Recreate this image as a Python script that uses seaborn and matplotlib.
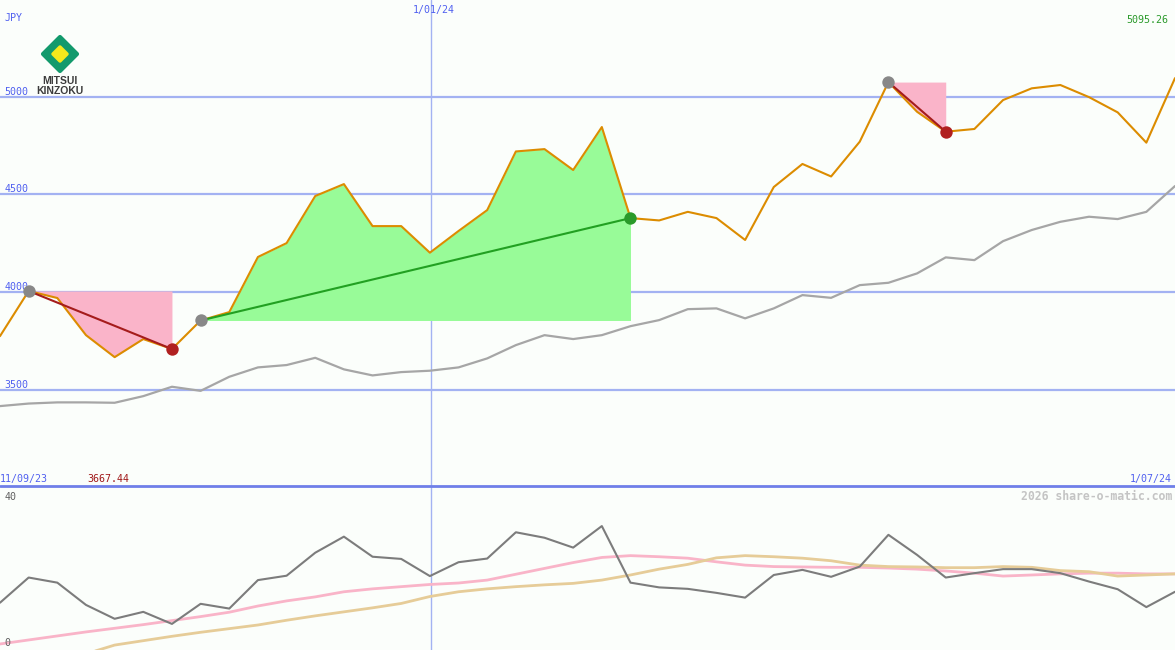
import numpy as np
import pandas as pd
import matplotlib
matplotlib.use("Agg")
import matplotlib.pyplot as plt
import seaborn as sns
from matplotlib.patches import Polygon

# weekly closes (JPY), 42 weeks
price = [3775, 4006, 3970, 3780, 3667.44, 3760, 3709, 3855, 3898, 4180,
         4251, 4492, 4553, 4338, 4338, 4202, 4313, 4420, 4720, 4732,
         4625, 4845, 4379, 4367, 4411, 4379, 4267, 4538, 4656, 4592,
         4770, 5075, 4923, 4821, 4835, 4983, 5043, 5060, 4998, 4920,
         4765, 5095.26]
# moving average (grey)
ma = [3417, 3430, 3436, 3436, 3434, 3468, 3516, 3495, 3567, 3615,
      3627, 3664, 3605, 3574, 3591, 3598, 3615, 3661, 3729, 3780,
      3760, 3780, 3826, 3857, 3913, 3917, 3866, 3917, 3985, 3971,
      4036, 4048, 4096, 4178, 4164, 4261, 4318, 4360, 4386, 4374,
      4411, 4543]
# lower panel indicator + its two averages
osc = [12.4, 19.3, 17.9, 11.8, 8.0, 9.9, 6.6, 12.1, 10.8, 18.6,
       19.8, 26.1, 30.5, 25.0, 24.4, 19.7, 23.5, 24.5, 31.7, 30.2,
       27.5, 33.4, 17.9, 16.6, 16.2, 15.1, 13.8, 20.0, 21.4, 19.5,
       22.3, 31.0, 25.5, 19.3, 20.5, 21.6, 21.6, 20.5, 18.2, 16.1,
       11.2, 15.4]
osc_fast = [1.1, 2.2, 3.3, 4.4, 5.4, 6.4, 7.5, 8.6, 9.8, 11.5,
            12.9, 14.0, 15.4, 16.2, 16.8, 17.4, 17.8, 18.6, 20.2, 21.8,
            23.4, 24.8, 25.3, 25.0, 24.6, 23.6, 22.7, 22.3, 22.2, 22.1,
            22.1, 21.9, 21.6, 21.1, 20.5, 19.7, 20.0, 20.3, 20.5, 20.5,
            20.3, 20.3]
osc_slow = [np.nan, np.nan, np.nan, -1.6, 0.8, 2.0, 3.2, 4.3, 5.3, 6.3,
            7.6, 8.8, 9.9, 11.0, 12.2, 14.1, 15.4, 16.2, 16.8, 17.3,
            17.7, 18.6, 20.0, 21.6, 22.9, 24.7, 25.3, 25.0, 24.6, 23.9,
            22.7, 22.3, 22.2, 22.0, 22.0, 22.3, 22.1, 21.2, 20.9, 19.7,
            20.0, 20.3]

levels = [3500, 4000, 4500, 5000]
osc_labels = [40, 0]
newyear_pos = 15.04
start_label, newyear_label, end_label = "11/09/23", "1/01/24", "1/07/24"
low_price = 3667.44
last_price = 5095.26
# (start week, end week, direction)
swings = [(1, 6, "down"), (7, 22, "up"), (31, 33, "down")]

x = np.arange(len(price))
W, H = 1175, 650
bg = "#fbfefb"
grid_c = "#a3b2f2"
blue_txt = "#5060f0"
fs = 7.2

sns.set_theme(style="white")
plt.rcParams['font.family'] = ['DejaVu Sans Mono', 'DejaVu Sans']

fig = plt.figure(figsize=(W / 100, H / 100), dpi=100)
fig.patch.set_facecolor(bg)
ax = fig.add_axes([0, 163 / H, 1, 487 / H])
ax2 = fig.add_axes([0, 0, 1, 163 / H])
for a in (ax, ax2):
    a.set_facecolor(bg)
    a.axis("off")
    a.set_xlim(0, len(price) - 1)
    a.axvline(newyear_pos, color=grid_c, lw=1, zorder=0)

ax.set_ylim(3003, 5495)
ax2.set_ylim(-0.55, 44.1)

# price panel
for lv in levels:
    ax.axhline(lv, color=grid_c, lw=1.6, zorder=0)
    ax.text(0.004, lv, str(lv), transform=ax.get_yaxis_transform(),
            color=blue_txt, fontsize=fs, va="bottom")

for s, e, d in swings:
    fill_c = "#fab4c9" if d == "down" else "#98fb98"
    line_c = "#a51c1c" if d == "down" else "#22a022"
    end_c = "#b02020" if d == "down" else "#2a9a2a"
    ax.fill_between(x[s:e + 1], price[s:e + 1], price[s], color=fill_c, lw=0, zorder=1)
    ax.plot([x[s], x[e]], [price[s], price[e]], color=line_c, lw=1.5, zorder=3)
    ax.scatter([x[s]], [price[s]], s=80, color="#888888", zorder=4, lw=0)
    ax.scatter([x[e]], [price[e]], s=80, color=end_c, zorder=4, lw=0)

sns.lineplot(x=x, y=ma, ax=ax, color="#a6a6a6", lw=1.6, zorder=2)
sns.lineplot(x=x, y=price, ax=ax, color="#dc8c00", lw=1.5, zorder=2)

# indicator panel
sns.lineplot(x=x, y=osc_fast, ax=ax2, color="#f9b4c8", lw=2, zorder=2)
sns.lineplot(x=x, y=osc_slow, ax=ax2, color="#e6cc98", lw=2, zorder=2)
sns.lineplot(x=x, y=osc, ax=ax2, color="#7c7c7c", lw=1.5, zorder=3)
ax2.axhline(44.45, color="#6f7fe8", lw=2, zorder=5, clip_on=False)
for v in osc_labels:
    ax2.text(0.004, v, str(v), transform=ax2.get_yaxis_transform(),
             color="#606060", fontsize=fs, va="bottom")

# header / footer labels
def fpos(px, py):
    return px / W, 1 - py / H

fig.text(*fpos(5, 18), "JPY", color=blue_txt, fontsize=fs, va="center")
fig.text(*fpos(434, 10), newyear_label, color=blue_txt, fontsize=fs, va="center", ha="center")
fig.text(*fpos(1168, 20), f"{last_price:.2f}", color="#2a9a2a", fontsize=fs, va="center", ha="right")
fig.text(*fpos(0, 479), start_label, color=blue_txt, fontsize=fs, va="center")
fig.text(*fpos(87, 479), f"{low_price:.2f}", color="#a01818", fontsize=fs, va="center")
fig.text(*fpos(1172, 479), end_label, color=blue_txt, fontsize=fs, va="center", ha="right")
fig.text(*fpos(1172, 496), "2026 share-o-matic.com", color="#c4c4c4", fontsize=8.3,
         fontweight="bold", va="center", ha="right")

# logo
lg = fig.add_axes([0, 0, 1, 1], facecolor="none")
lg.set_xlim(0, W)
lg.set_ylim(H, 0)
lg.axis("off")
cx, cy = 60, 54
lg.add_patch(Polygon([(cx - 17, cy), (cx, cy - 17), (cx + 17, cy), (cx, cy + 17)],
                     closed=True, fc="#129a6c", ec="#129a6c", lw=3, joinstyle="round"))
lg.add_patch(Polygon([(cx - 7, cy), (cx, cy - 7), (cx + 7, cy), (cx, cy + 7)],
                     closed=True, fc="#f4e81c", ec="#f4e81c", lw=2.5, joinstyle="round"))
lg.text(cx, 81, "MITSUI", family=["Liberation Sans", "DejaVu Sans"], fontweight="bold",
        fontsize=7.5, color="#3c3c3c", ha="center", va="center")
lg.text(cx, 91, "KINZOKU", family=["Liberation Sans", "DejaVu Sans"], fontweight="bold",
        fontsize=7.5, color="#3c3c3c", ha="center", va="center")

fig.savefig("out.png", dpi=100, facecolor=bg)
